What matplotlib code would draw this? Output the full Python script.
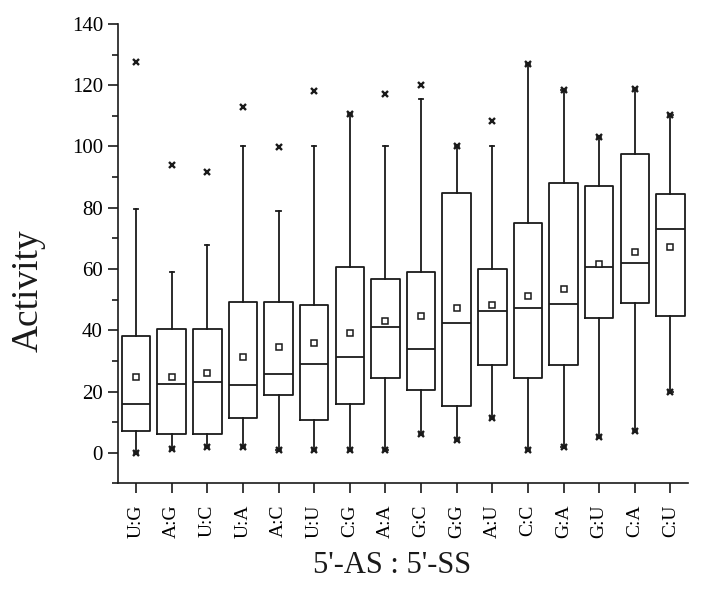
import matplotlib
matplotlib.use("Agg")
import matplotlib.pyplot as plt
from matplotlib.ticker import MultipleLocator

plt.rcParams["font.family"] = ["Liberation Serif", "DejaVu Serif"]

# values
labels = ["U:G", "A:G", "U:C", "U:A", "A:C", "U:U", "C:G", "A:A",
          "G:C", "G:G", "A:U", "C:C", "G:A", "G:U", "C:A", "C:U"]
q1 = [7.1, 6.3, 6.3, 11.4, 18.9, 10.7, 15.9, 24.5,
      20.5, 15.3, 28.8, 24.5, 28.8, 44.0, 49.0, 44.6]
medians = [16.0, 22.4, 23.1, 22.0, 25.8, 29.0, 31.4, 41.0,
           33.9, 42.3, 46.2, 47.4, 48.6, 60.5, 61.8, 73.0]
q3 = [38.1, 40.4, 40.3, 49.1, 49.1, 48.3, 60.5, 56.6,
      58.9, 84.9, 59.9, 75.1, 88.2, 87.2, 97.5, 84.5]
means = [24.6, 24.8, 26.2, 31.2, 34.6, 36.0, 39.2, 43.1,
         44.5, 47.2, 48.4, 51.1, 53.6, 61.7, 65.4, 67.1]
whisk_hi = [79.6, 58.9, 67.8, 100.0, 78.9, 100.0, 110.7, 100.0,
            115.6, 100.0, 100.0, 126.9, 118.4, 103.1, 118.7, 110.3]
mins = [0.0, 1.4, 2.0, 2.0, 0.9, 0.9, 0.9, 0.9,
        6.1, 4.1, 11.2, 0.9, 2.0, 5.0, 7.2, 19.9]
maxs = [127.7, 94.1, 91.7, 112.8, 99.9, 118.1, 110.7, 117.2,
        120.0, 100.0, 108.4, 126.9, 118.4, 103.1, 118.7, 110.3]

ink = "#1a1a1a"
positions = list(range(1, len(labels) + 1))

stats = []
for i, lab in enumerate(labels):
    stats.append({
        "label": lab,
        "q1": q1[i], "med": medians[i], "q3": q3[i],
        "mean": means[i],
        "whislo": mins[i], "whishi": whisk_hi[i],
        "fliers": [],
    })

fig = plt.figure(figsize=(7.04, 5.91), dpi=100)
ax = fig.add_axes([0.168, 0.182, 0.8097, 0.7775])

ax.bxp(stats, positions=positions, widths=0.8, capwidths=0.12,
       showmeans=True, showfliers=False, patch_artist=False,
       boxprops=dict(color=ink, linewidth=1.3),
       medianprops=dict(color=ink, linewidth=1.3),
       whiskerprops=dict(color=ink, linewidth=1.3),
       capprops=dict(color=ink, linewidth=1.3),
       meanprops=dict(marker="s", markersize=4.2, markerfacecolor="white",
                      markeredgecolor=ink, markeredgewidth=1.1))

ax.plot(positions, maxs, linestyle="none", marker="x", markersize=4.5,
        markeredgewidth=1.7, color=ink, zorder=4)
ax.plot(positions, mins, linestyle="none", marker="x", markersize=4.5,
        markeredgewidth=1.7, color=ink, zorder=4)

ax.set_xlim(0.5, 16.5)
ax.set_ylim(-10, 140)
ax.yaxis.set_major_locator(MultipleLocator(20))
ax.yaxis.set_minor_locator(MultipleLocator(10))
ax.set_xticks(positions)
ax.set_xticklabels(labels, rotation=90, fontsize=14)

for s in ["top", "right"]:
    ax.spines[s].set_visible(False)
for s in ["left", "bottom"]:
    ax.spines[s].set_linewidth(1.2)
    ax.spines[s].set_color(ink)

ax.tick_params(axis="both", which="major", direction="out", length=7,
               width=1.2, color=ink)
ax.tick_params(axis="y", which="minor", direction="out", length=4,
               width=1.2, color=ink)
ax.tick_params(axis="y", labelsize=15, pad=4)
ax.tick_params(axis="x", pad=8)

fig.text(28 / 704, 1 - 291 / 591, "Activity", rotation=90, fontsize=27,
         ha="center", va="center", color=ink)
fig.text(392.5 / 704, 1 - 573 / 591, "5'-AS : 5'-SS", fontsize=22,
         ha="center", va="baseline", color=ink)

fig.savefig("out.png", dpi=100)
